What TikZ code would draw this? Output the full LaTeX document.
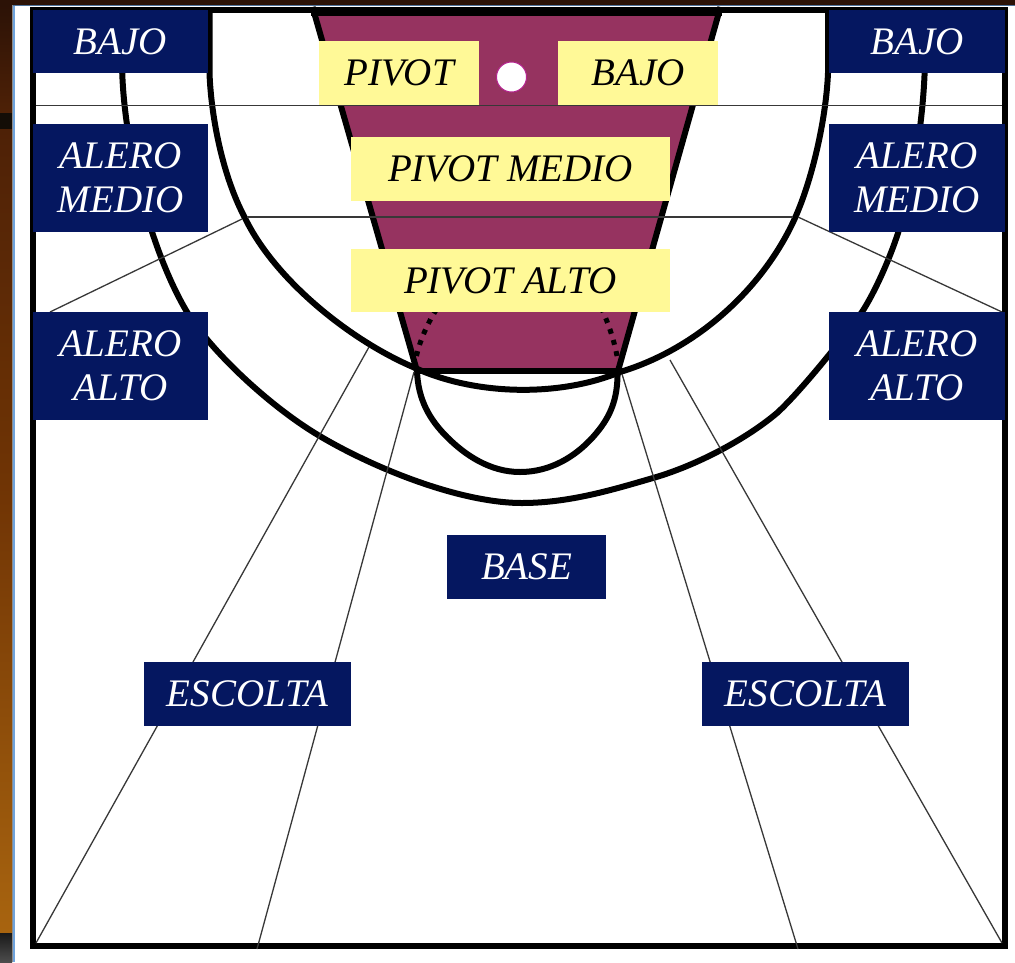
\documentclass[tikz,border=0pt]{standalone}
\usepackage{fontspec}
\setmainfont{Liberation Serif}
\definecolor{navy}{HTML}{051760}
\definecolor{lemon}{HTML}{FFF997}
\definecolor{lane}{HTML}{963360}
\definecolor{winblue}{HTML}{6FA3DC}
\definecolor{woodA}{HTML}{2C1206}
\definecolor{woodB}{HTML}{4E2106}
\definecolor{woodC}{HTML}{713505}
\definecolor{woodD}{HTML}{A8640F}
\tikzset{
  zonebox/.style={fill=navy,text=white,inner sep=0pt,align=center,font=\fontsize{39}{44}\selectfont\itshape},
  pivotbox/.style={fill=lemon,text=black,inner sep=0pt,align=center,font=\fontsize{39}{44}\selectfont\itshape},
  court/.style={draw=black,line width=6pt,line join=miter},
  thinline/.style={draw=black!78,line width=1.3pt},
  dots/.style={draw=black,line width=5pt,dash pattern=on 5pt off 6.5pt}
}
\begin{document}
\begin{tikzpicture}[x=1pt,y=-1pt]
\useasboundingbox (0,0) rectangle (1015,962);
% backdrop
\fill[white] (0,0) rectangle (1015,962);
\fill[woodA] (0,0) rectangle (1015,5);
\shade[top color=woodA,bottom color=woodB] (0,5) rectangle (12,113);
\fill[black!90!brown] (0,113) rectangle (12,129);
\shade[top color=woodB,bottom color=woodC] (0,129) rectangle (12,500);
\shade[top color=woodC,bottom color=woodD] (0,500) rectangle (12,933);
\shade[top color=black!90,bottom color=black!70] (0,933) rectangle (12,962);
\fill[black!45] (12,5) rectangle (13,962);
\fill[winblue] (13,5) rectangle (15,962);
\fill[winblue!70!black] (13,5) rectangle (1015,6.2);
% lane
\fill[lane] (314,11) -- (719,11) -- (618,371) -- (417,371) -- cycle;
\draw[court,line cap=butt] (312.5,7) -- (417,371);
\draw[court,line cap=butt] (720.5,7) -- (618,371);
\fill[black] (311,7) rectangle (722,16);
\draw[black,line width=6pt] (415,371) -- (620,371);
% dotted arcs at the free-throw circle
\draw[dots] (416.5,356) .. controls (420,340) and (428,322) .. (438,307);
\draw[dots] (617,356) .. controls (614,340) and (609,325) .. (601,307);
% free-throw circle, lower half
\draw[court] (417,371) .. controls (418,400) and (430,420) .. (447,437)
  .. controls (465,455) and (490,472) .. (520,472)
  .. controls (550,472) and (575,457) .. (593,437)
  .. controls (610,418) and (618,400) .. (617.5,371);
% restricted arc
\draw[court] (209.5,10) -- (209.5,73)
  .. controls (211,115) and (222,175) .. (245,218)
  .. controls (275,280) and (350,340) .. (413,367)
  .. controls (475,396) and (560,397) .. (620,372)
  .. controls (700,348) and (765,285) .. (795,218)
  .. controls (812,180) and (826,120) .. (828,73) -- (828,10);
% three-point arc
\draw[court] (122,60)
  .. controls (122,140) and (150,250) .. (187,312)
  .. controls (210,350) and (268,405) .. (318,435)
  .. controls (373,468) and (460,503) .. (522,503)
  .. controls (570,503) and (615,489) .. (653,478)
  .. controls (695,466) and (745,440) .. (777,413)
  .. controls (800,392) and (842,340) .. (862,312)
  .. controls (875,292) and (890,258) .. (898,233)
  .. controls (912,190) and (924,120) .. (925,60);
% frame
\draw[black,line width=6pt] (33,10) rectangle (1004.5,946);
% thin zone lines
\draw[thinline] (36,105.5) -- (1002,105.5);
\draw[thinline] (247,217) -- (793,217);
\draw[thinline] (242,219) -- (50,312);
\draw[thinline] (798,217) -- (1002,312);
\draw[thinline] (369,347) -- (36,943);
\draw[thinline] (414,372) -- (257,949);
\draw[thinline] (622,374) -- (798,949);
\draw[thinline] (670,360) -- (1002,943);
% pivot boxes
\node[pivotbox,minimum width=160pt,minimum height=64pt] (pivot) at (399,73) {PIVOT};
\node[pivotbox,minimum width=160pt,minimum height=64pt] (bajoc) at (638,73) {BAJO};
\node[pivotbox,minimum width=319pt,minimum height=64pt] (pmedio) at (510.5,169) {PIVOT MEDIO};
\node[pivotbox,minimum width=319pt,minimum height=63pt] (palto) at (510.5,280.5) {PIVOT ALTO};
\draw[thinline] (319,105.5) -- (718,105.5);
\node[circle,fill=white,draw=lane!70!magenta,line width=1pt,minimum size=30pt,inner sep=0pt] (hoop) at (511.5,77) {};
% zone boxes
\node[zonebox,minimum width=175pt,minimum height=63pt] (bajol) at (120.5,41.5) {BAJO};
\node[zonebox,minimum width=176pt,minimum height=63pt] (bajor) at (917,41.5) {BAJO};
\node[zonebox,minimum width=175pt,minimum height=108pt] (medl) at (120.5,178) {ALERO\\MEDIO};
\node[zonebox,minimum width=176pt,minimum height=108pt] (medr) at (917,178) {ALERO\\MEDIO};
\node[zonebox,minimum width=175pt,minimum height=108pt] (altl) at (120.5,366) {ALERO\\ALTO};
\node[zonebox,minimum width=176pt,minimum height=108pt] (altr) at (917,366) {ALERO\\ALTO};
\node[zonebox,minimum width=159pt,minimum height=64pt] (base) at (526.5,567) {BASE};
\node[zonebox,minimum width=207pt,minimum height=64pt] (escl) at (247.5,694) {ESCOLTA};
\node[zonebox,minimum width=207pt,minimum height=64pt] (escr) at (805.5,694) {ESCOLTA};
\end{tikzpicture}
\end{document}
